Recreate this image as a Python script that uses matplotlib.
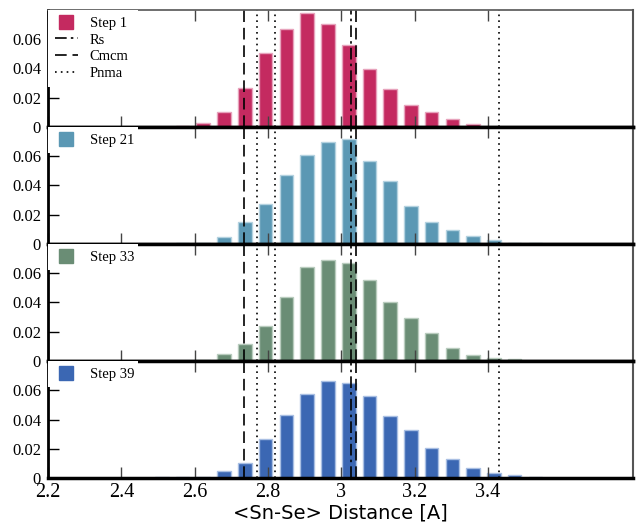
import matplotlib.pyplot as plt
from matplotlib.lines import Line2D

# bin centres of the Sn-Se distance histogram
centers = [2.397, 2.454, 2.510, 2.567, 2.623, 2.680, 2.737, 2.793, 2.850, 2.906, 2.963,
           3.020, 3.076, 3.133, 3.189, 3.246, 3.303, 3.359, 3.416, 3.472, 3.529, 3.586]

step1 = [0, 0, 0, 0.0010, 0.0026, 0.0102, 0.0267, 0.0508, 0.0670, 0.0779, 0.0703,
         0.0561, 0.0398, 0.0260, 0.0148, 0.0102, 0.0056, 0.0022, 0, 0, 0, 0]
step21 = [0, 0, 0, 0.0004, 0.0010, 0.0046, 0.0148, 0.0273, 0.0470, 0.0610, 0.0697,
          0.0721, 0.0566, 0.0434, 0.0262, 0.0150, 0.0096, 0.0055, 0.0027, 0.0010, 0.0005, 0]
step33 = [0.0002, 0.0002, 0.0003, 0.0003, 0.0005, 0.0047, 0.0114, 0.0237, 0.0440, 0.0641, 0.0689,
          0.0672, 0.0554, 0.0406, 0.0296, 0.0189, 0.0089, 0.0041, 0.0023, 0.0012, 0.0003, 0]
step39 = [0.0003, 0.0003, 0.0004, 0.0006, 0.0009, 0.0048, 0.0102, 0.0264, 0.0432, 0.0573, 0.0666,
          0.0652, 0.0561, 0.0421, 0.0327, 0.0204, 0.0127, 0.0070, 0.0034, 0.0023, 0.0008, 0]

labels = ["Step 1", "Step 21", "Step 33", "Step 39"]
series = [step1, step21, step33, step39]
colors = ["#C42A60", "#5B98B4", "#6A8D75", "#3B67B3"]
edges = ["#E7A3BC", "#B4D2E0", "#B9CCBE", "#A9BFE3"]

# reference bond lengths of the crystal phases
rs = [3.025]
cmcm = [2.733, 3.041]
pnma = [2.77, 2.82, 3.43]

xticks = [2.2, 2.4, 2.6, 2.8, 3.0, 3.2, 3.4]
xticklabels = ["2.2", "2.4", "2.6", "2.8", "3", "3.2", "3.4"]
yticks = [0, 0.02, 0.04, 0.06]
yticklabels = ["0", "0.02", "0.04", "0.06"]

serif = "Liberation Serif"
dashdot = (0, (7, 2.5, 1.5, 2.5))
dashed = (0, (7, 3.5))
dotted = (0, (1, 2.5))

fig, axes = plt.subplots(4, 1, figsize=(6.37, 5.25), dpi=100, sharex=True)
fig.subplots_adjust(left=0.0754, right=0.9937, bottom=0.0895, top=0.981, hspace=0)

for i, ax in enumerate(axes):
    ax.bar(centers, series[i], width=0.037, color=colors[i], edgecolor=edges[i], linewidth=1.0)
    for x in rs:
        ax.axvline(x, color="black", lw=1.2, linestyle=dashdot)
    for x in cmcm:
        ax.axvline(x, color="black", lw=1.2, linestyle=dashed)
    for x in pnma:
        ax.axvline(x, color="black", lw=1.2, linestyle=dotted)

    ax.set_xlim(2.2, 3.795)
    ax.set_ylim(0, 0.08)
    ax.set_xticks(xticks)
    ax.set_yticks(yticks)
    ax.set_yticklabels(yticklabels, fontfamily=serif, fontsize=12)
    ax.tick_params(axis="x", direction="in", top=True, bottom=True, length=8, width=1,
                   color="#444444")
    ax.tick_params(axis="y", direction="in", left=True, right=False, length=8, width=1,
                   pad=5)
    ax.spines["left"].set_linewidth(2)
    ax.spines["right"].set_linewidth(1.5)
    ax.spines["right"].set_color("#555555")
    ax.spines["bottom"].set_linewidth(2.5)
    ax.spines["top"].set_linewidth(2.5)
    if i == 0:
        ax.spines["top"].set_linewidth(1.2)
        ax.spines["top"].set_color("#555555")

    handles = [Line2D([], [], color=colors[i], marker="s", markersize=10, linestyle="none")]
    names = [labels[i]]
    if i == 0:
        handles += [Line2D([], [], color="black", lw=1.2, linestyle=dashdot),
                    Line2D([], [], color="black", lw=1.2, linestyle=dashed),
                    Line2D([], [], color="black", lw=1.2, linestyle=dotted)]
        names += ["Rs", "Cmcm", "Pnma"]
    # white box without border: hides the inner half of the spines, like the original
    leg = ax.legend(handles, names, loc="upper left", bbox_to_anchor=(0, 0, 0.154, 1),
                    mode="expand", borderaxespad=0, fancybox=False, framealpha=1,
                    edgecolor="none", prop={"family": serif, "size": 10.5},
                    handlelength=1.6, handletextpad=0.8, labelspacing=0.25, borderpad=0.45)

axes[-1].set_xticklabels(xticklabels, fontfamily=serif, fontsize=14.5)
axes[-1].set_xlabel("<Sn-Se> Distance [A]", fontsize=14, labelpad=1)

fig.savefig("out.png", dpi=100)
